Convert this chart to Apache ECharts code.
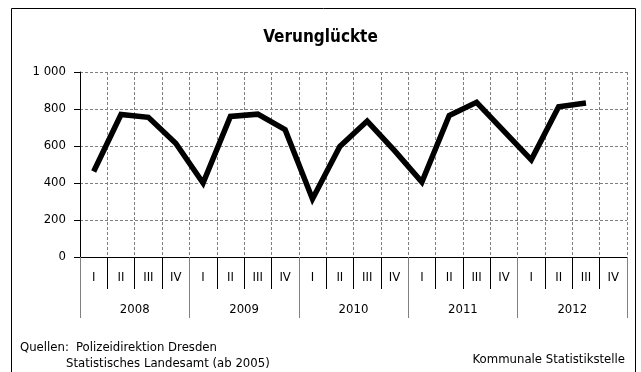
<!DOCTYPE html>
<html>
<head>
<meta charset="utf-8">
<script src="https://cdn.jsdelivr.net/npm/echarts@6/dist/echarts.min.js"></script>
<style>
  html, body { margin: 0; padding: 0; background: #fff; }
  #chart { width: 641px; height: 372px; }
</style>
</head>
<body>
<div id="chart"></div>
<script>
// Quarterly counts of persons injured in road accidents, Dresden
const quarters = ['I', 'II', 'III', 'IV', 'I', 'II', 'III', 'IV', 'I', 'II', 'III', 'IV',
                  'I', 'II', 'III', 'IV', 'I', 'II', 'III', 'IV'];
const years = ['2008', '2009', '2010', '2011', '2012'];
const injured = [462, 770, 755, 615, 400, 760, 772, 688, 314, 598, 735, 575,
                 405, 765, 836, 680, 525, 812, 832, null];
const yTicks = [0, 200, 400, 600, 800, 1000];

const FONT = "'DejaVu Sans Condensed', 'Liberation Sans Narrow', 'Arial Narrow', sans-serif";

const chart = echarts.init(document.getElementById('chart'), null, { renderer: 'canvas' });

const dashed = { color: '#7f7f7f', width: 1, type: [3, 2] };

chart.setOption({
  animation: false,
  backgroundColor: '#fff',
  title: {
    text: 'Verunglückte',
    left: 'center',
    top: 24,
    textStyle: { fontFamily: FONT, fontSize: 17, fontWeight: 'bold', color: '#000' }
  },
  grid: { left: 80, right: 14, top: 72, bottom: 115, containLabel: false },
  xAxis: [
    {
      type: 'category',
      data: quarters,
      boundaryGap: true,
      position: 'bottom',
      axisLine: { show: true, lineStyle: { color: '#000', width: 1 } },
      axisTick: { show: true, interval: 0, length: 32, lineStyle: { color: '#000', width: 1 } },
      axisLabel: { show: true, interval: 0, margin: 14, fontFamily: FONT, fontSize: 13, color: '#000' },
      splitLine: { show: true, interval: 0, lineStyle: dashed }
    },
    {
      type: 'category',
      data: years,
      boundaryGap: true,
      position: 'bottom',
      axisLine: { show: false },
      axisTick: { show: true, interval: 0, length: 61, lineStyle: { color: '#808080', width: 1 } },
      axisLabel: { show: true, interval: 0, margin: 46, fontFamily: FONT, fontSize: 13, color: '#000' },
      splitLine: { show: false }
    }
  ],
  yAxis: {
    type: 'value',
    min: yTicks[0],
    max: yTicks[yTicks.length - 1],
    interval: 200,
    axisLine: { show: true, lineStyle: { color: '#000', width: 1 } },
    axisTick: { show: true, length: 6, lineStyle: { color: '#000' } },
    axisLabel: {
      margin: 14,
      fontFamily: FONT,
      fontSize: 13,
      color: '#000',
      formatter: v => String(v).replace(/\B(?=(\d{3})+(?!\d))/g, ' ')
    },
    splitLine: { show: true, lineStyle: dashed }
  },
  series: [{
    type: 'line',
    xAxisIndex: 0,
    data: injured,
    showSymbol: false,
    symbol: 'none',
    connectNulls: false,
    lineStyle: { color: '#000', width: 5.5, join: 'miter' },
    z: 5
  }],
  graphic: [
    {
      type: 'rect',
      shape: { x: 11.5, y: 8.5, width: 624, height: 380 },
      style: { fill: null, stroke: '#000', lineWidth: 1 },
      silent: true, z: -1
    },
    {
      type: 'text', left: 20, top: 341,
      style: { text: 'Quellen:', font: '13px ' + FONT, fill: '#000' }
    },
    {
      type: 'text', left: 76, top: 341,
      style: { text: 'Polizeidirektion Dresden', font: '13px ' + FONT, fill: '#000' }
    },
    {
      type: 'text', left: 66, top: 357,
      style: { text: 'Statistisches Landesamt (ab 2005)', font: '13px ' + FONT, fill: '#000' }
    },
    {
      type: 'text', right: 16, top: 353,
      style: { text: 'Kommunale Statistikstelle', font: '13px ' + FONT, fill: '#000' }
    }
  ]
});
</script>
</body>
</html>
